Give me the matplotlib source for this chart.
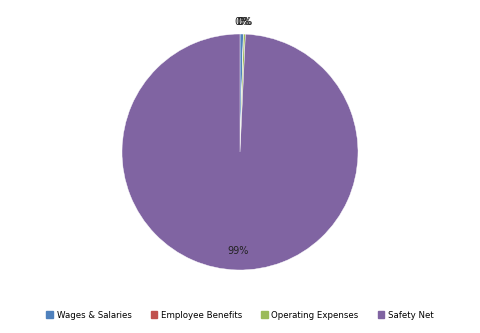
import numpy as np
import matplotlib
matplotlib.use("Agg")
import matplotlib.pyplot as plt

categories = ["Wages & Salaries", "Employee Benefits", "Operating Expenses", "Safety Net"]
values = [0.45, 0.03, 0.25, 99.27]
colors = ["#4F81BD", "#C0504D", "#9BBB59", "#8064A2"]

W, H = 480, 333
fig = plt.figure(figsize=(W / 100, H / 100), dpi=100)
cx, cy, r = 240, 152, 118
ax = fig.add_axes([(cx - r) / W, (H - cy - r) / H, 2 * r / W, 2 * r / H])
wedges, _ = ax.pie(values, colors=colors, startangle=90, counterclock=False,
                   wedgeprops=dict(linewidth=0.3, edgecolor="white"), radius=1.0)
ax.set_xlim(-1, 1)
ax.set_ylim(-1, 1)
ax.set_aspect("auto")

total = sum(values)
for i, (w, v) in enumerate(zip(wedges, values)):
    pct = v / total * 100
    ang = np.deg2rad((w.theta1 + w.theta2) / 2)
    txt = "%d%%" % round(pct)
    if pct < 5:
        d = 1.1
    else:
        d = 0.84
    ax.text(d * np.cos(ang), d * np.sin(ang), txt, ha="center", va="center",
            fontsize=7, color="#222222")

handles = [plt.Rectangle((0, 0), 1, 1, color=c) for c in colors]
fig.legend(handles, categories, loc="center", bbox_to_anchor=(0.5, (H - 315) / H),
           ncol=4, frameon=False, fontsize=6.2, handlelength=0.8, handleheight=0.8,
           handletextpad=0.4, columnspacing=2.2)
fig.savefig("out.png", dpi=100)
